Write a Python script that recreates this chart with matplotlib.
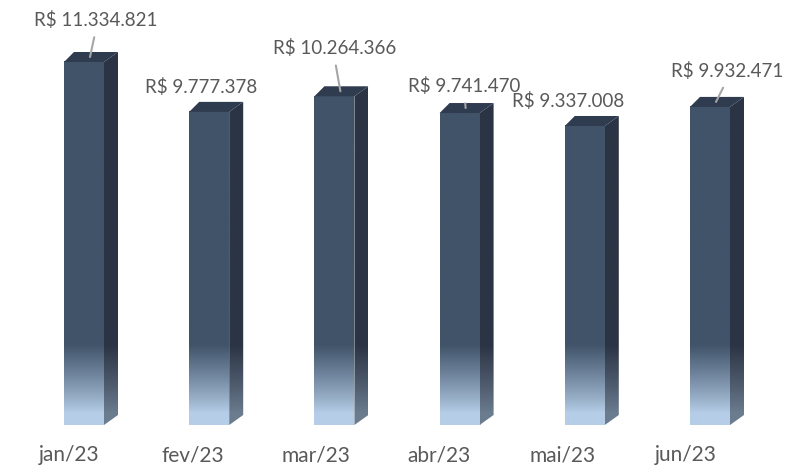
import numpy as np
import matplotlib
matplotlib.use('Agg')
import matplotlib.pyplot as plt
from matplotlib.patches import Polygon
from matplotlib.colors import to_rgb

# data
months = ['jan/23', 'fev/23', 'mar/23', 'abr/23', 'mai/23', 'jun/23']
values = [11334821, 9777378, 10264366, 9741470, 9337008, 9932471]
labels = ['R$ 11.334.821', 'R$ 9.777.378', 'R$ 10.264.366',
          'R$ 9.741.470', 'R$ 9.337.008', 'R$ 9.932.471']

# label offsets (pixels) from the top face, and whether a leader line shows
lab_off = [(6, 37), (-14, 20), (-6, 43), (-1, 22), (-23, 20), (11, 31)]
leader = [True, False, True, True, False, True]

W, H = 801, 476
fig = plt.figure(figsize=(W / 100, H / 100), dpi=100)
ax = fig.add_axes([0, 0, 1, 1])
ax.axis('off')

# scale: pixels per unit
kx = 125.2
ky = 363 / 11334821
x0px, y0px = 84, 51
ax.set_xlim(-x0px / kx, (W - x0px) / kx)
ax.set_ylim(-y0px / ky, (H - y0px) / ky)

hw = 20 / kx          # half width of the front face
dxl, dxr = 10 / kx, 14 / kx
dy = 10 / ky

front_dark = np.array(to_rgb('#405369'))
front_light = np.array(to_rgb('#B5CDE7'))
side_dark = np.array(to_rgb('#2B3444'))
side_light = np.array(to_rgb('#6B7C8F'))
top_col = '#2F3B4E'


def grad(v, dark, light, n=300):
    h = np.linspace(v, 0, n) * ky          # pixel height above the base
    t = np.clip((h - 12) / 68, 0, 1) ** 0.9
    rgb = light[None, :] * (1 - t[:, None]) + dark[None, :] * t[:, None]
    return rgb[:, None, :]


for i, v in enumerate(values):
    # front face
    ax.imshow(grad(v, front_dark, front_light), extent=[i - hw, i + hw, 0, v],
              aspect='auto', interpolation='bilinear', zorder=2)
    # side face
    side = Polygon([(i + hw, 0), (i + hw + dxr, dy), (i + hw + dxr, v + dy), (i + hw, v)],
                   closed=True, facecolor='none', edgecolor='none')
    ax.add_patch(side)
    simg = ax.imshow(grad(v + dy, side_dark, side_light), extent=[i + hw, i + hw + dxr, 0, v + dy],
                     aspect='auto', interpolation='bilinear', zorder=2)
    simg.set_clip_path(side)
    # top face
    ax.add_patch(Polygon([(i - hw, v), (i - hw + dxl, v + dy), (i + hw + dxr, v + dy), (i + hw, v)],
                         closed=True, facecolor=top_col, edgecolor='none', zorder=3))

    ax.annotate(labels[i], xy=(i + 6 / kx, v + dy / 2), xytext=lab_off[i],
                textcoords='offset pixels', ha='center', va='center',
                fontsize=13.5, family='Lato', color='#595959', zorder=5,
                arrowprops=dict(arrowstyle='-', color='#A6A6A6', lw=1.5,
                                shrinkA=4, shrinkB=0, relpos=(0.5, 0))
                if leader[i] else None)

    # category label, slightly left of the bar and drifting left to the right
    ax.text(i - (15 + 1.8 * i) / kx, -30 / ky, months[i], ha='center', va='center',
            fontsize=15, family='Lato', color='#595959')

fig.savefig('out.png', dpi=100)
